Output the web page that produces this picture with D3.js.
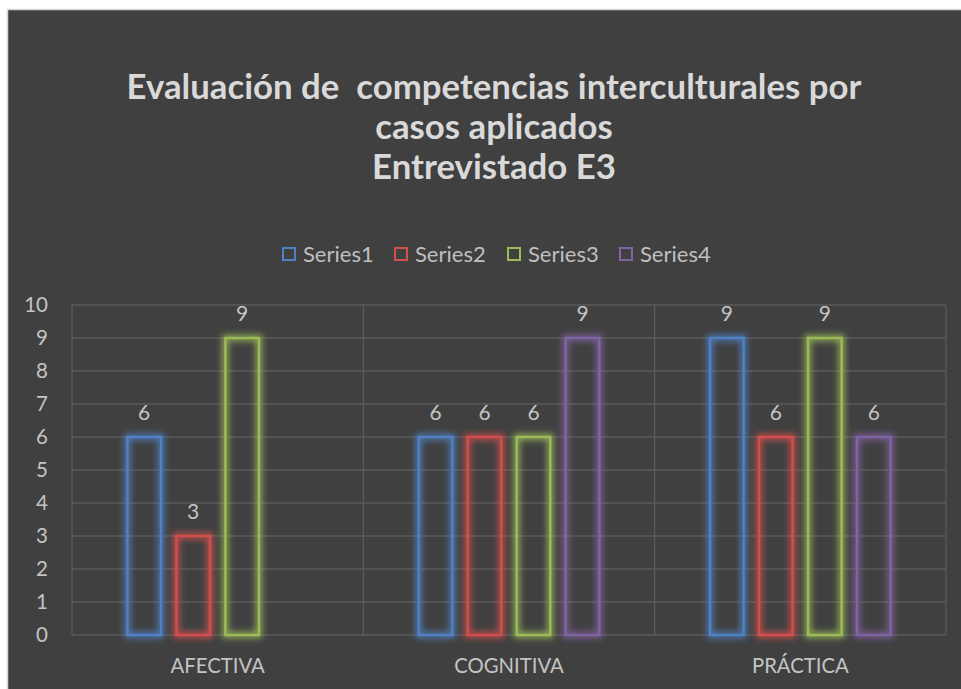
<!DOCTYPE html>
<html>
<head>
<meta charset="utf-8">
<script src="https://cdn.jsdelivr.net/npm/d3@7"></script>
<style>
  html, body { margin: 0; padding: 0; background: #ffffff; }
  svg { display: block; }
  text { font-family: Lato, "Open Sans", "Liberation Sans", sans-serif; }
</style>
</head>
<body>
<svg id="chart" width="961" height="689"></svg>
<script>
// ---- data ----
const titleLines = ["Evaluación de  competencias interculturales por", "casos aplicados", "Entrevistado E3"];
const categories = ["AFECTIVA", "COGNITIVA", "PRÁCTICA"];
const seriesNames = ["Series1", "Series2", "Series3", "Series4"];
const series1 = [6, 6, 9];
const series2 = [3, 6, 6];
const series3 = [9, 6, 9];
const series4 = [null, 9, 6];
const yTicks = [0, 1, 2, 3, 4, 5, 6, 7, 8, 9, 10];
const seriesColors = ["#4f81c4", "#d0504d", "#9bbb59", "#8064a2"];

const seriesValues = [series1, series2, series3, series4];

// ---- layout ----
const svg = d3.select("#chart");
const W = 961, H = 689;
const plot = { left: 72, right: 946, top: 305, bottom: 635 };
const centerX = 494;

// frame
svg.append("rect").attr("x", 7.5).attr("y", 9.5).attr("width", W).attr("height", H)
  .attr("fill", "#404040").attr("stroke", "#d6d6d6").attr("stroke-width", 1.5);

// glow filter
const defs = svg.append("defs");
const f = defs.append("filter").attr("id", "glow")
  .attr("x", "-50%").attr("y", "-20%").attr("width", "200%").attr("height", "140%");
f.append("feMorphology").attr("in", "SourceGraphic").attr("operator", "dilate").attr("radius", 1.5).attr("result", "d");
f.append("feGaussianBlur").attr("in", "d").attr("stdDeviation", 3).attr("result", "b");
f.append("feComponentTransfer").attr("in", "b").attr("result", "b2")
  .append("feFuncA").attr("type", "linear").attr("slope", 0.85);
const m = f.append("feMerge");
m.append("feMergeNode").attr("in", "b2");
m.append("feMergeNode").attr("in", "SourceGraphic");

// scales
const y = d3.scaleLinear().domain([0, 10]).range([plot.bottom, plot.top]);
const x0 = d3.scaleBand().domain(categories).range([plot.left, plot.right])
  .paddingInner(0.372).paddingOuter(0.186);
const x1 = d3.scaleBand().domain(seriesNames).range([0, x0.bandwidth()])
  .paddingInner(0.265).paddingOuter(0);

// gridlines
const grid = svg.append("g");
grid.selectAll("line.h").data(yTicks).join("line")
  .attr("x1", plot.left).attr("x2", plot.right)
  .attr("y1", d => y(d)).attr("y2", d => y(d))
  .attr("stroke", "#5a5a5a").attr("stroke-width", 1.3);
const bounds = categories.map(c => x0(c) - x0.step() * x0.paddingInner() / 2);
bounds.push(plot.right);
grid.selectAll("line.v").data(bounds).join("line")
  .attr("x1", d => d).attr("x2", d => d)
  .attr("y1", plot.top).attr("y2", plot.bottom)
  .attr("stroke", "#5a5a5a").attr("stroke-width", 1.3);

// y axis
const yAxis = d3.axisLeft(y).tickValues(yTicks).tickSize(0).tickPadding(0);
const yg = svg.append("g").attr("transform", `translate(48,0)`).call(yAxis);
yg.select(".domain").remove();
yg.selectAll("text").attr("fill", "#c4c4c4").style("font-size", "20.5px")
  .style("font-family", "Lato, 'Open Sans', sans-serif");

// x axis
const xAxis = d3.axisBottom(x0).tickSize(0).tickPadding(0);
const xg = svg.append("g").attr("transform", `translate(0,${plot.bottom})`).call(xAxis);
xg.select(".domain").remove();
xg.selectAll("text").attr("fill", "#c4c4c4").attr("dy", null).attr("y", 38)
  .style("font-size", "20.3px").style("font-family", "Lato, 'Open Sans', sans-serif");

// bars
const flat = [];
categories.forEach((c, ci) => {
  seriesNames.forEach((s, si) => {
    const v = seriesValues[si][ci];
    if (v !== null && v !== undefined) flat.push({ c, s, v, color: seriesColors[si] });
  });
});
const bars = svg.append("g");
bars.selectAll("rect").data(flat).join("rect")
  .attr("x", d => x0(d.c) + x1(d.s) + 1.2)
  .attr("y", d => y(d.v))
  .attr("width", x1.bandwidth() - 2.4)
  .attr("height", d => y(0) - y(d.v))
  .attr("fill", "none")
  .attr("stroke", d => d.color)
  .attr("stroke-width", 2.4)
  .attr("filter", "url(#glow)");

// data labels
svg.append("g").selectAll("text").data(flat).join("text")
  .attr("x", d => x0(d.c) + x1(d.s) + x1.bandwidth() / 2)
  .attr("y", d => y(d.v) - 17)
  .attr("text-anchor", "middle")
  .attr("fill", "#c4c4c4").style("font-size", "21px")
  .text(d => d.v);

// title
const titleSel = svg.append("g").selectAll("text").data(titleLines).join("text")
  .attr("x", centerX).attr("y", (d, i) => 99 + i * 40)
  .attr("text-anchor", "middle")
  .attr("fill", "#d9d9d9")
  .style("font-size", "29px").style("font-weight", "bold")
  .style("white-space", "pre")
  .attr("xml:space", "preserve")
  .text(d => d);
// fit first title line to its measured width in the reference
const w0 = titleSel.node().getComputedTextLength();
const titleSize = Math.min(36, 29 * 735 / w0);
titleSel.style("font-size", titleSize + "px");

// legend
const legendX = [282, 394, 507, 619];
const lg = svg.append("g").selectAll("g").data(seriesNames).join("g")
  .attr("transform", (d, i) => `translate(${legendX[i]},247)`);
lg.append("rect").attr("x", 1).attr("y", 1).attr("width", 12).attr("height", 12)
  .attr("fill", "none").attr("stroke", (d, i) => seriesColors[i]).attr("stroke-width", 2);
lg.append("text").attr("x", 21).attr("y", 14.5)
  .attr("fill", "#bfbfbf").style("font-size", "22px")
  .text(d => d);
</script>
</body>
</html>
